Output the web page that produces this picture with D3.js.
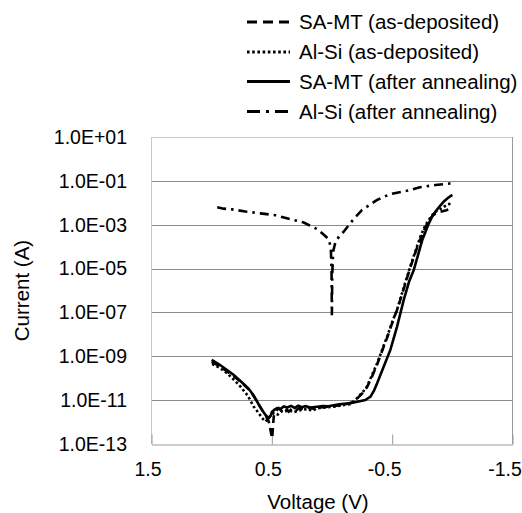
<html>
<head>
<meta charset="utf-8">
<script src="https://d3js.org/d3.v7.min.js"></script>
<style>
  body { margin: 0; background: #fff; }
  text { font-family: "Liberation Sans", Arial, sans-serif; fill: #000; }
</style>
</head>
<body>
<script>
// [voltage (V), current (A)]
const saMtAsDep = [
  [1.00, 5.6e-10], [0.93, 3.4e-10], [0.87, 2.0e-10], [0.80, 1.05e-10], [0.74, 5.5e-11],
  [0.68, 2.7e-11], [0.63, 1.0e-11], [0.59, 4.2e-12], [0.555, 2.2e-12], [0.525, 1.05e-12],
  [0.51, 4.0e-13], [0.497, 1.8e-13], [0.49, 7e-13], [0.484, 1.8e-12], [0.465, 3.2e-12],
  [0.443, 4.3e-12], [0.42, 3.3e-12], [0.39, 4.5e-12], [0.36, 3.0e-12], [0.33, 4.2e-12],
  [0.30, 3.4e-12], [0.27, 4.4e-12], [0.23, 3.7e-12], [0.19, 4.6e-12], [0.15, 4.0e-12],
  [0.10, 4.6e-12], [0.05, 4.9e-12], [0.0, 5.2e-12], [-0.06, 5.9e-12], [-0.12, 6.6e-12],
  [-0.17, 8.0e-12], [-0.21, 1.2e-11], [-0.25, 2.0e-11], [-0.29, 3.8e-11], [-0.33, 1.1e-10],
  [-0.375, 4.2e-10], [-0.42, 2.0e-9], [-0.46, 7.5e-9], [-0.50, 3.3e-8], [-0.55, 1.8e-7],
  [-0.60, 1.4e-6], [-0.65, 1.1e-5], [-0.70, 7e-5], [-0.74, 2.6e-4], [-0.78, 8.5e-4],
  [-0.81, 1.7e-3], [-0.84, 2.7e-3], [-0.86, 3.2e-3], [-0.90, 3.9e-3], [-0.95, 4.6e-3],
  [-1.0, 5.6e-3]
];

const alSiAsDep = [
  [0.996, 4.5e-10], [0.93, 2.9e-10], [0.87, 1.66e-10], [0.81, 8e-11], [0.76, 4.1e-11],
  [0.70, 1.6e-11], [0.65, 5.0e-12], [0.61, 2.6e-12], [0.58, 1.5e-12], [0.553, 1.05e-12],
  [0.53, 1.4e-12], [0.51, 2.1e-12], [0.48, 2.6e-12], [0.45, 2.2e-12], [0.42, 3.1e-12],
  [0.40, 2.9e-12], [0.36, 3.5e-12], [0.32, 2.8e-12], [0.263, 3.5e-12], [0.21, 3.9e-12],
  [0.16, 3.3e-12], [0.124, 4.3e-12], [0.06, 4.6e-12], [-0.014, 5.0e-12], [-0.08, 5.8e-12],
  [-0.153, 6.6e-12], [-0.19, 9.5e-12], [-0.22, 1.45e-11], [-0.26, 2.5e-11], [-0.29, 4.1e-11],
  [-0.33, 1.3e-10], [-0.375, 4.8e-10], [-0.42, 2.2e-9], [-0.458, 7.9e-9], [-0.50, 3.6e-8],
  [-0.54, 1.3e-7], [-0.60, 1.6e-6], [-0.65, 1.23e-5], [-0.70, 8e-5], [-0.734, 2.8e-4],
  [-0.77, 8e-4], [-0.803, 1.66e-3], [-0.835, 2.8e-3], [-0.86, 3.9e-3], [-0.90, 5.2e-3],
  [-0.93, 6.6e-3], [-0.97, 8.5e-3], [-1.0, 1.12e-2]
];

const saMtAnneal = [
  [1.00, 6.8e-10], [0.93, 4.0e-10], [0.87, 2.3e-10], [0.816, 1.4e-10], [0.75, 6.5e-11],
  [0.69, 3.2e-11], [0.65, 1.6e-11], [0.61, 6.5e-12], [0.58, 3.5e-12], [0.553, 2.1e-12],
  [0.526, 1.5e-12], [0.51, 1.9e-12], [0.50, 2.9e-12], [0.48, 3.6e-12], [0.457, 4.3e-12],
  [0.43, 3.9e-12], [0.40, 5.2e-12], [0.373, 4.6e-12], [0.34, 5.5e-12], [0.31, 4.4e-12],
  [0.28, 5.6e-12], [0.25, 4.8e-12], [0.22, 5.3e-12], [0.18, 4.6e-12], [0.124, 5.0e-12],
  [0.08, 5.4e-12], [0.03, 5.3e-12], [-0.014, 5.9e-12], [-0.06, 6.4e-12], [-0.10, 6.8e-12],
  [-0.153, 7.2e-12], [-0.21, 8.5e-12], [-0.277, 1.0e-11], [-0.32, 1.45e-11], [-0.35, 2.8e-11],
  [-0.375, 5.9e-11], [-0.43, 3.4e-10], [-0.485, 1.95e-9], [-0.54, 2.2e-8], [-0.596, 3.7e-7],
  [-0.64, 2.5e-6], [-0.68, 8.7e-6], [-0.75, 2.0e-4], [-0.805, 1.15e-3], [-0.835, 2.6e-3],
  [-0.86, 4.0e-3], [-0.90, 7.5e-3], [-0.928, 1.12e-2], [-0.96, 1.6e-2], [-1.0, 2.3e-2]
];

const alSiAnneal = [
  [0.954, 6.2e-3], [0.90, 5.4e-3], [0.83, 5.0e-3], [0.72, 4.0e-3], [0.595, 3.3e-3],
  [0.47, 2.7e-3], [0.345, 1.8e-3], [0.235, 1.26e-3], [0.18, 9e-4], [0.124, 6.3e-4],
  [0.07, 3.6e-4], [0.027, 2.2e-4], [0.01, 9e-5], [0.004, 1e-5], [0.001, 7.5e-8],
  [-0.002, 5e-6], [-0.01, 6e-5], [-0.028, 1.6e-4], [-0.06, 3e-4], [-0.097, 4.8e-4],
  [-0.18, 1.8e-3], [-0.25, 4.7e-3], [-0.375, 1.35e-2], [-0.485, 2.5e-2], [-0.62, 3.5e-2],
  [-0.73, 5.1e-2], [-0.86, 6.5e-2], [-1.0, 7.8e-2]
];

const seriesNames = [
  "SA-MT (as-deposited)",
  "Al-Si (as-deposited)",
  "SA-MT (after annealing)",
  "Al-Si (after annealing)"
];
const seriesData = [saMtAsDep, alSiAsDep, saMtAnneal, alSiAnneal];
const seriesDash = ["8,5", "2.5,2.5", null, "9,5,2.5,5"];

const xTicks = [1.5, 0.5, -0.5, -1.5];
const yTicks = [1e1, 1e-1, 1e-3, 1e-5, 1e-7, 1e-9, 1e-11, 1e-13];
const yTickLabels = ["1.0E+01", "1.0E-01", "1.0E-03", "1.0E-05", "1.0E-07", "1.0E-09", "1.0E-11", "1.0E-13"];

const W = 522, H = 513;
const pLeft = 151.5, pRight = 512.5, pTop = 137, pBottom = 444;

const svg = d3.select("body").append("svg")
  .attr("width", W).attr("height", H);

const x = d3.scaleLinear().domain([1.5, -1.5]).range([pLeft, pRight]);
const y = d3.scaleLog().domain([1e-13, 1e1]).range([pBottom, pTop]);

// gridlines
svg.append("g")
  .selectAll("line")
  .data(yTicks.slice(1, -1))
  .enter().append("line")
  .attr("x1", pLeft).attr("x2", pRight)
  .attr("y1", d => Math.round(y(d)) + 0.5).attr("y2", d => Math.round(y(d)) + 0.5)
  .style("stroke", "#8a8a8a").style("stroke-width", 1);

// frame
svg.append("line").attr("x1", pLeft).attr("x2", pRight).attr("y1", pTop + 0.5).attr("y2", pTop + 0.5)
  .style("stroke", "#c8c8c8");
svg.append("line").attr("x1", pLeft).attr("x2", pLeft).attr("y1", pTop).attr("y2", pBottom)
  .style("stroke", "#c8c8c8");
svg.append("line").attr("x1", pRight).attr("x2", pRight).attr("y1", pTop).attr("y2", pBottom)
  .style("stroke", "#9a9a9a");

// bottom axis, ticks pointing up
const xAxis = svg.append("g")
  .attr("transform", "translate(0," + (pBottom + 0.5) + ")")
  .call(d3.axisBottom(x).tickValues(xTicks).tickSizeInner(-10).tickSizeOuter(0).tickFormat(d3.format(".1f")));
xAxis.select(".domain").style("stroke", "#9a9a9a");
xAxis.selectAll(".tick line").style("stroke", "#9a9a9a");
xAxis.selectAll(".tick text")
  .attr("y", 18).attr("dy", "0.71em")
  .attr("dx", d => d < 0 ? -8 : -4)
  .style("font-size", "19.5px")
  .style("font-family", "'Liberation Sans', Arial, sans-serif")
  .text(d => d3.format(".1f")(d).replace("\u2212", "-"));

// y labels
svg.append("g")
  .selectAll("text")
  .data(yTicks)
  .enter().append("text")
  .attr("x", 127)
  .attr("y", d => y(d))
  .attr("dy", "0.35em")
  .style("text-anchor", "end")
  .style("font-size", "19.5px")
  .text((d, i) => yTickLabels[i]);

// axis titles
svg.append("text").attr("x", 318).attr("y", 509)
  .style("text-anchor", "middle").style("font-size", "20.5px").text("Voltage (V)");
svg.append("text")
  .attr("transform", "translate(29," + ((pTop + pBottom) / 2) + ") rotate(-90)")
  .style("text-anchor", "middle").style("font-size", "20.5px").text("Current (A)");

// curves
const line = d3.line().x(d => x(d[0])).y(d => y(d[1]));
seriesData.forEach((data, i) => {
  svg.append("path")
    .datum(data)
    .attr("d", line)
    .style("fill", "none")
    .style("stroke", "#000")
    .style("stroke-width", 2.6)
    .style("stroke-dasharray", seriesDash[i]);
});

// handmade legend
const legendY = [22, 52, 81.5, 111.5];
seriesNames.forEach((name, i) => {
  svg.append("line")
    .attr("x1", 247).attr("x2", 290)
    .attr("y1", legendY[i]).attr("y2", legendY[i])
    .style("stroke", "#000").style("stroke-width", 3)
    .style("stroke-dasharray", i == 1 ? "2.6,2.6" : i == 0 ? "10,6" : i == 3 ? "13,6,3,6" : null);
  svg.append("text")
    .attr("x", 299).attr("y", legendY[i]).attr("dy", "0.35em")
    .style("font-size", "20.5px")
    .text(name);
});
</script>
</body>
</html>
